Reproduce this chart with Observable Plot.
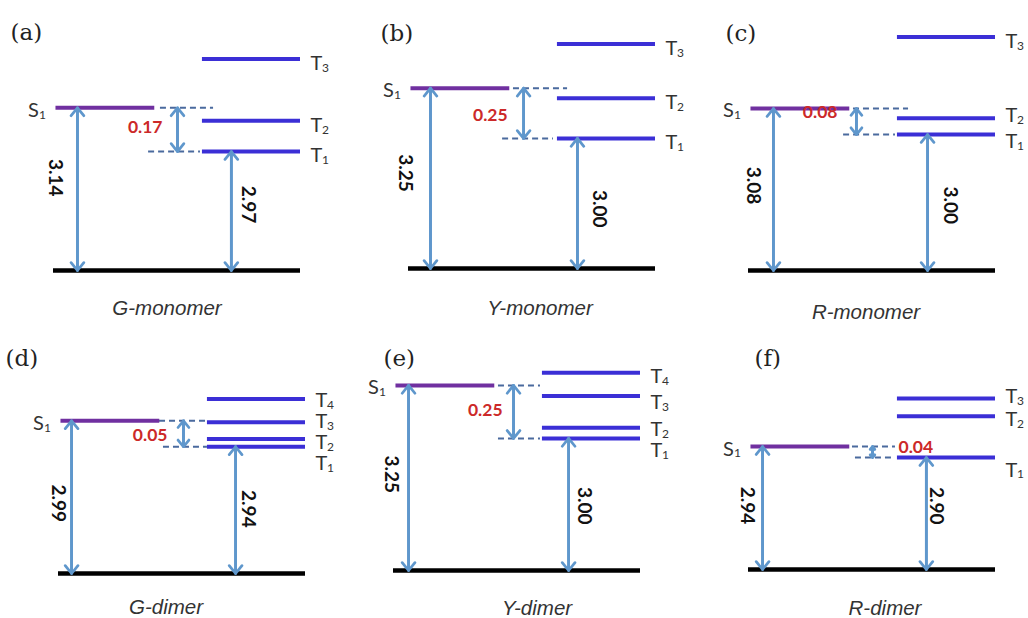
<!DOCTYPE html>
<html>
<head>
<meta charset="utf-8">
<script src="https://cdn.jsdelivr.net/npm/d3@7"></script>
<script src="https://cdn.jsdelivr.net/npm/@observablehq/plot@0.6"></script>
<style>
  html, body { margin: 0; padding: 0; background: #fff; }
  #fig { position: relative; width: 1028px; height: 618px; overflow: hidden; background: #fff; }
  #fig > svg { position: absolute; }
</style>
</head>
<body>
<div id="fig"></div>
<script>
// Singlet / triplet excited-state levels (eV) of the monomers and dimers
const panelTags = ["(a)", "(b)", "(c)", "(d)", "(e)", "(f)"];
const species = ["G-monomer", "Y-monomer", "R-monomer", "G-dimer", "Y-dimer", "R-dimer"];
const s1Energy = [3.14, 3.25, 3.08, 2.99, 3.25, 2.94];
const t1Energy = [2.97, 3.00, 3.00, 2.94, 3.00, 2.90];
// higher triplets T2, T3 (and T4 for two dimers)
const upperTriplets = [
  [3.09, 3.33],
  [3.20, 3.47],
  [3.05, 3.30],
  [2.955, 2.987, 3.032],
  [3.05, 3.20, 3.31],
  [3.05, 3.115]
];
// energy at the ground line and at the top of each diagram (broken energy axis)
const axisFloor = [2.507, 2.353, 2.582, 2.696, 2.377, 2.493];
const axisCeil  = [3.441, 3.547, 3.320, 3.158, 3.509, 3.366];

// ---- drawing style and layout ----
const W = 340, H = 310, ML = 60, MR = 33, MT = 20, MB = 50;
const panelBox = [[-7, 10], [348, 8], [688, 10], [-2, 313], [333, 310], [688, 309]];
const S1_COLOR = "#7030A0", T_COLOR = "#3B2FD6", ARROW = "#5F97CC", DASH = "#4A6A9E", RED = "#CC2929";
const SANS = "Lato, 'Open Sans', sans-serif";
const SERIF = "'DejaVu Serif', 'Liberation Serif', serif";
const ITALIC = "'Liberation Sans', Arial, sans-serif";

// horizontal slots (fraction of the ground line) and label nudges per panel
const look = [
  {arrowL: 0.097, arrowR: 0.720, arrowGap: 0.502, dashS: [0.433, 0.648], dashT: [0.385, 0.595],
   lblL: [-22, 0.43], lblR: [17, 0.445], gap: ["end", -15, -2.5], tag: [-43, 2], name: [-10, 38], tDy: [4, 5, 5]},
  {arrowL: 0.089, arrowR: 0.684, arrowGap: 0.466, dashS: [0.425, 0.644], dashT: [0.381, 0.587],
   lblL: [-25, 0.47], lblR: [22, 0.54], gap: ["end", -16, 2], tag: [-28, 5], name: [8, 40], tDy: [4.5, 4, 4.5]},
  {arrowL: 0.101, arrowR: 0.725, arrowGap: 0.437, dashS: [0.425, 0.648], dashT: [0.385, 0.595],
   lblL: [-20, 0.475], lblR: [23, 0.52], gap: ["end", -19, -9], tag: [-23, 3], name: [-6, 42], tDy: [7, -3, 5]},
  {arrowL: 0.053, arrowR: 0.717, arrowGap: 0.506, dashS: [0.409, 0.603], dashT: [0.425, 0.603],
   lblL: [-13, 0.54], lblR: [12, 0.49], gap: ["end", -16, 2], tag: [-53, 25], name: [-16, 34], tDy: [17, 4, -0.5, 1.5]},
  {arrowL: 0.061, arrowR: 0.709, arrowGap: 0.486, dashS: [0.425, 0.595], dashT: [0.425, 0.595],
   lblL: [-17, 0.48], lblR: [15, 0.51], gap: ["end", -11, -1.5], tag: [-10, 28], name: [20, 38], tDy: [12.5, 1.5, 6.5, 3.5]},
  {arrowL: 0.057, arrowR: 0.720, arrowGap: 0.502, dashS: [0.421, 0.595], dashT: [0.433, 0.595],
   lblL: [-15, 0.48], lblR: [10, 0.43], gap: ["start", 26, -4.5], tag: [6, 29], name: [13, 39], tDy: [12.5, 3, -1.5]}
];
const S1_SPAN = [0.01, 0.41], T_SPAN = [0.603, 1];

const fig = document.getElementById("fig");

// a level name with a numeric subscript, e.g. S₁ or T₃
function levelName(x, y, letter, sub, anchor, dx, dy) {
  const base = {x: () => x, y: () => y, lineAnchor: "middle", fontFamily: SANS, fill: "#333"};
  const letterDx = anchor === "end" ? dx - 7 : dx;
  const subDx = anchor === "end" ? dx : dx + 11.5;
  return [
    Plot.text([0], {...base, text: () => letter, textAnchor: anchor, dx: letterDx, dy, fontSize: 20}),
    Plot.text([0], {...base, text: () => sub, textAnchor: anchor, dx: subDx, dy: dy + 4.5, fontSize: 12})
  ];
}

panelTags.forEach((tag, i) => {
  const L = look[i];
  const s1 = s1Energy[i], t1 = t1Energy[i], floor = axisFloor[i];
  const triplets = [t1, ...upperTriplets[i]].map((e, k) => ({e, n: String(k + 1), dy: L.tDy[k]}));
  // each double-headed arrow is two overlapping single-headed arrows
  const shafts = [[L.arrowL, floor, s1], [L.arrowR, floor, t1], [L.arrowGap, t1, s1]]
    .flatMap(([x, a, b]) => [{x, from: a, to: b}, {x, from: b, to: a}]);
  const energyLabels = [
    {x: L.arrowL, y: s1 - L.lblL[1] * (s1 - floor), t: s1.toFixed(2), dx: L.lblL[0]},
    {x: L.arrowR, y: t1 - L.lblR[1] * (t1 - floor), t: t1.toFixed(2), dx: L.lblR[0]}
  ];

  const chart = Plot.plot({
    width: W, height: H,
    marginLeft: ML, marginRight: MR, marginTop: MT, marginBottom: MB,
    x: {domain: [0, 1], axis: null},
    y: {domain: [floor, axisCeil[i]], axis: null},
    style: {background: "transparent", overflow: "visible"},
    marks: [
      // ground state
      Plot.ruleY([floor], {x1: 0, x2: 1, stroke: "#000", strokeWidth: 4.5}),
      // dashed guides for the singlet–triplet gap
      Plot.ruleY([s1], {x1: L.dashS[0], x2: L.dashS[1], stroke: DASH, strokeWidth: 2, strokeDasharray: "6,4"}),
      Plot.ruleY([t1], {x1: L.dashT[0], x2: L.dashT[1], stroke: DASH, strokeWidth: 2, strokeDasharray: "6,4"}),
      // S1 and triplet levels
      Plot.ruleY([s1], {x1: S1_SPAN[0], x2: S1_SPAN[1], stroke: S1_COLOR, strokeWidth: 4}),
      Plot.ruleY(triplets, {y: "e", x1: T_SPAN[0], x2: T_SPAN[1], stroke: T_COLOR, strokeWidth: 4}),
      // transition arrows
      Plot.arrow(shafts, {x1: "x", x2: "x", y1: "from", y2: "to", stroke: ARROW, strokeWidth: 2.75,
        headLength: 5.5, headAngle: 78}),
      // energies along the arrows
      ...energyLabels.map(d => Plot.text([d], {x: "x", y: "y", text: "t", dx: d.dx, rotate: 90,
        lineAnchor: "middle", fontFamily: SANS, fontWeight: "bold", fontSize: 19, fill: "#111"})),
      // gap value
      Plot.text([{x: L.arrowGap, y: (s1 + t1) / 2, t: (s1 - t1).toFixed(2)}], {x: "x", y: "y", text: "t",
        textAnchor: L.gap[0], dx: L.gap[1], dy: L.gap[2], lineAnchor: "middle",
        fontFamily: SANS, fontWeight: "bold", fontSize: 17.5, fill: RED}),
      // level names
      ...levelName(S1_SPAN[0], s1, "S", "1", "end", -10, 2.5),
      ...triplets.flatMap(d => levelName(T_SPAN[1], d.e, "T", d.n, "start", 10, d.dy)),
      // panel tag and species name
      Plot.text([tag], {frameAnchor: "top-left", text: d => d, textAnchor: "start", dx: L.tag[0], dy: L.tag[1],
        lineAnchor: "middle", fontFamily: SERIF, fontSize: 23, fill: "#222"}),
      Plot.text([species[i]], {frameAnchor: "bottom", text: d => d, dx: L.name[0], dy: L.name[1],
        lineAnchor: "middle", fontFamily: ITALIC, fontStyle: "italic", fontSize: 20.5, fill: "#333"})
    ]
  });
  chart.style.left = panelBox[i][0] + "px";
  chart.style.top = panelBox[i][1] + "px";
  fig.appendChild(chart);
});
</script>
</body>
</html>
